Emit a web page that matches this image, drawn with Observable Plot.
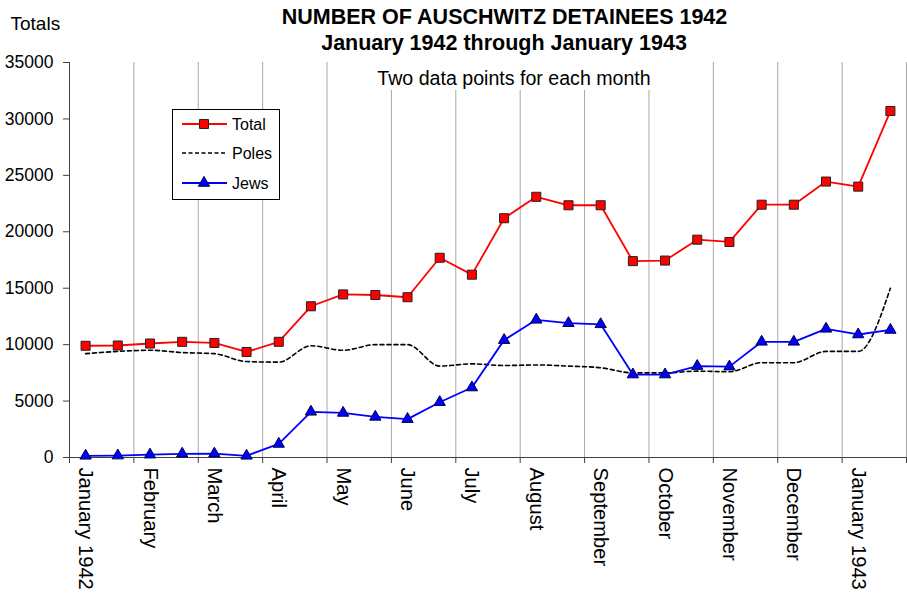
<!DOCTYPE html>
<html>
<head>
<meta charset="utf-8">
<script src="https://cdn.jsdelivr.net/npm/d3@7"></script>
<script src="https://cdn.jsdelivr.net/npm/@observablehq/plot@0.6"></script>
<style>
  body { margin: 0; background: #fff; font-family: "Liberation Sans", Arial, sans-serif; }
  #wrap { position: relative; width: 907px; height: 597px; overflow: hidden; }
  #sub { position: absolute; left: 360px; top: 62px; width: 300px; height: 28px; background: #fff; }
  #sub div { position: absolute; left: 8px; right: 0; top: 6.6px; text-align: center; font-size: 19.6px; line-height: 19.6px; color: #000; white-space: nowrap; }
  #legend { position: absolute; left: 172px; top: 109px; width: 108px; height: 91px; box-sizing: border-box; border: 1px solid #000; background: #fff; }
  #legend svg { position: absolute; left: -1px; top: -1px; overflow: visible; }
</style>
</head>
<body>
<div id="wrap"></div>
<script>
// ---- data ----
const months = ["January 1942", "February", "March", "April", "May", "June", "July",
                "August", "September", "October", "November", "December", "January 1943"];
// two data points per month (26 values)
const total = [9900, 9925, 10100, 10250, 10150, 9350, 10250, 13400, 14450, 14400, 14200, 17700,
               16200, 21200, 23100, 22350, 22350, 17400, 17450, 19300, 19100, 22400, 22400,
               24450, 24000, 30700];
const poles = [9200, 9400, 9500, 9300, 9200, 8500, 8450, 9900, 9500, 10000, 10000, 8100,
               8300, 8150, 8200, 8100, 7950, 7500, 7500, 7650, 7600, 8400, 8400,
               9400, 9400, 15000];
const jews  = [150, 170, 250, 330, 340, 150, 1200, 4050, 3950, 3600, 3400, 4900,
               6200, 10400, 12200, 11900, 11800, 7350, 7350, 8100, 8050, 10250, 10250,
               11400, 10900, 11300];
const yTicks = [0, 5000, 10000, 15000, 20000, 25000, 30000, 35000];
const seriesNames = ["Total", "Poles", "Jews"];
const titleLines = ["NUMBER OF AUSCHWITZ DETAINEES 1942", "January 1942 through January 1943"];
const subtitle = "Two data points for each month";
const yAxisTitle = "Totals";

// ---- derived tables ----
const rows = total.map((v, i) => ({pos: i + 0.5, total: v, poles: poles[i], jews: jews[i]}));
const monthRows = months.map((m, k) => ({label: m, pos: 2 * k + 0.5}));
const bounds = d3.range(0, 2 * months.length + 1, 2);

const FONT = '"Liberation Sans", Arial, sans-serif';

const chart = Plot.plot({
  width: 907,
  height: 597,
  marginLeft: 69,
  marginRight: 1,
  marginTop: 62,
  marginBottom: 140,
  x: {domain: [0, 2 * months.length], axis: null},
  y: {domain: [0, 35000], axis: null},
  style: {fontFamily: FONT, background: "white", overflow: "visible", color: "black"},
  marks: [
    Plot.gridX(bounds, {stroke: "#a8a8a8", strokeOpacity: 1, strokeWidth: 1}),
    Plot.axisY(yTicks, {tickSize: 6, tickPadding: 10, tickFormat: d => String(d), fontSize: 17.5,
                        stroke: "#404040", fill: "black", label: null}),
    Plot.axisX(bounds, {tickSize: 6, tickFormat: () => "", stroke: "#404040", label: null}),
    Plot.ruleX([0], {stroke: "#404040", strokeWidth: 1}),
    Plot.ruleY([0], {stroke: "#404040", strokeWidth: 1}),
    // Total
    Plot.lineY(rows, {x: "pos", y: "total", stroke: "#ff0000", strokeWidth: 1.8}),
    Plot.dot(rows, {x: "pos", y: "total", symbol: "square", r: 5.1, fill: "#ff0000", stroke: "#222", strokeWidth: 1}),
    // Poles
    Plot.lineY(rows, {x: "pos", y: "poles", stroke: "#000", strokeWidth: 1.6, strokeDasharray: "4,3", curve: "monotone-x"}),
    // Jews
    Plot.lineY(rows, {x: "pos", y: "jews", stroke: "#0000ff", strokeWidth: 1.8}),
    Plot.dot(rows, {x: "pos", y: "jews", symbol: "triangle", r: 4.2, fill: "#0000ff", stroke: "#000040", strokeWidth: 1}),
    // month labels
    Plot.text(monthRows, {x: "pos", text: "label", frameAnchor: "bottom", rotate: 90, textAnchor: "start",
                          lineAnchor: "middle", dy: 10, fontSize: 20.2, fill: "black"}),
    // titles
    Plot.text([titleLines[0]], {text: d => d, frameAnchor: "top", dx: 16.5, dy: -38.5, lineAnchor: "bottom",
                                fontSize: 21.5, fontWeight: "bold", fill: "black"}),
    Plot.text([titleLines[1]], {text: d => d, frameAnchor: "top", dx: 16, dy: -12.5, lineAnchor: "bottom",
                                fontSize: 21.5, fontWeight: "bold", fill: "black"}),
    Plot.text([yAxisTitle], {text: d => d, frameAnchor: "top-left", textAnchor: "start", dx: -59, dy: -32.7,
                             lineAnchor: "bottom", fontSize: 19, fill: "black"})
  ]
});

const wrap = document.getElementById("wrap");
wrap.appendChild(chart);

// subtitle box (white background over gridlines)
const sub = document.createElement("div");
sub.id = "sub";
const subText = document.createElement("div");
subText.textContent = subtitle;
sub.appendChild(subText);
wrap.appendChild(sub);

// legend box
const legend = document.createElement("div");
legend.id = "legend";
wrap.appendChild(legend);
const lsvg = d3.select(legend).append("svg").attr("width", 108).attr("height", 91);
const itemY = [15, 44, 74];
const styles = [
  {stroke: "#ff0000", dash: null, symbol: d3.symbolSquare, size: 5.1 * 5.1 * Math.PI, fill: "#ff0000", ms: "#222"},
  {stroke: "#000", dash: "4,2.5", symbol: null},
  {stroke: "#0000ff", dash: null, symbol: d3.symbolTriangle, size: 4.2 * 4.2 * Math.PI, fill: "#0000ff", ms: "#000040"}
];
seriesNames.forEach((name, i) => {
  const s = styles[i];
  const g = lsvg.append("g").attr("transform", `translate(0,${itemY[i]})`);
  g.append("line").attr("x1", 10).attr("x2", 55).attr("y1", 0).attr("y2", 0)
    .attr("stroke", s.stroke).attr("stroke-width", i === 1 ? 1.6 : 1.8)
    .attr("stroke-dasharray", s.dash);
  if (s.symbol) {
    g.append("path").attr("d", d3.symbol(s.symbol, s.size)()).attr("transform", "translate(32,0)")
      .attr("fill", s.fill).attr("stroke", s.ms).attr("stroke-width", 1);
  }
  g.append("text").attr("x", 60).attr("y", 5.6).attr("font-size", 16)
    .attr("font-family", FONT).attr("fill", "black").text(name);
});
</script>
</body>
</html>
